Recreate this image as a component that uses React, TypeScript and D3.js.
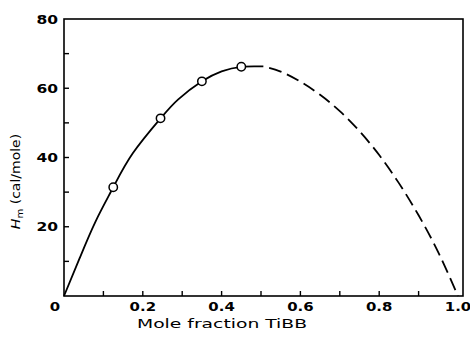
import React from "react";
import * as d3 from "d3";

// measured points (circles)
const pointX = [0.125, 0.245, 0.35, 0.45];
const pointY = [31.4, 51.3, 62, 66.2];

// smoothed curve, solid part (measured range)
const solidX = [0, 0.04, 0.08, 0.125, 0.175, 0.245, 0.29, 0.35, 0.4, 0.45, 0.506];
const solidY = [0, 11, 21.5, 31.4, 41.3, 51.3, 56.8, 62, 64.9, 66.2, 66.3];

// extrapolated part (dashed)
const dashX = [0.506, 0.55, 0.6, 0.65, 0.7, 0.75, 0.8, 0.85, 0.9, 0.95, 1.0];
const dashY = [66.3, 64.8, 61.9, 58.1, 53.4, 47.6, 40.7, 32.6, 23.3, 12.6, 0];

const xTicks = [0, 0.1, 0.2, 0.3, 0.4, 0.5, 0.6, 0.7, 0.8, 0.9, 1.0];
const xLabels = ["0", "", "0.2", "", "0.4", "", "0.6", "", "0.8", "", "1.0"];
const yTicks = [0, 10, 20, 30, 40, 50, 60, 70, 80];
const yLabels = ["", "", "20", "", "40", "", "60", "", "80"];

const W = 470;
const H = 338;
const left = 64, right = 458, frameRight = 463, top = 19, bottom = 296;
const font = "'DejaVu Sans', sans-serif";

export default function App() {
  const x = d3.scaleLinear().domain([0, 1]).range([left, right]);
  const y = d3.scaleLinear().domain([0, 80]).range([bottom, top]);

  const line = d3
    .line<[number, number]>()
    .x((d) => x(d[0]))
    .y((d) => y(d[1]))
    .curve(d3.curveNatural);

  const solid = line(solidX.map((v, i) => [v, solidY[i]] as [number, number])) || "";
  const dashed = line(dashX.map((v, i) => [v, dashY[i]] as [number, number])) || "";

  return (
    <svg
      width={W}
      height={H}
      style={{ position: "absolute", left: 0, top: 0, background: "#fff" }}
    >
      {/* frame */}
      <rect x={left} y={top} width={frameRight - left} height={bottom - top} fill="none" stroke="#000" strokeWidth={1.6} />

      {/* x ticks */}
      {xTicks.map((t, i) => (
        <g key={"x" + i}>
          {i > 0 && i < xTicks.length - 1 && (
            <line x1={x(t)} x2={x(t)} y1={bottom} y2={bottom - 5} stroke="#000" strokeWidth={1.4} />
          )}
          {xLabels[i] && (
            <text
              transform={`translate(${i === 0 ? x(t) - 9 : x(t)},${bottom + 15}) scale(1.3,1)`}
              textAnchor="middle"
              fontFamily={font}
              fontSize={11.5}
              fontWeight="bold"
            >
              {xLabels[i]}
            </text>
          )}
        </g>
      ))}

      {/* y ticks */}
      {yTicks.map((t, i) => (
        <g key={"y" + i}>
          {i > 0 && i < yTicks.length - 1 && (
            <line x1={left} x2={left + 5} y1={y(t)} y2={y(t)} stroke="#000" strokeWidth={1.4} />
          )}
          {yLabels[i] && (
            <text
              transform={`translate(${left - 6},${y(t) + 4.5}) scale(1.35,1)`}
              textAnchor="end"
              fontFamily={font}
              fontSize={11.5}
              fontWeight="bold"
            >
              {yLabels[i]}
            </text>
          )}
        </g>
      ))}

      {/* curves */}
      <path d={solid} fill="none" stroke="#000" strokeWidth={1.8} />
      <path d={dashed} fill="none" stroke="#000" strokeWidth={1.8} strokeDasharray="13,6" strokeDashoffset={-6} />

      {/* data points */}
      {pointX.map((v, i) => (
        <circle key={"p" + i} cx={x(v)} cy={y(pointY[i])} r={4.2} fill="#fff" stroke="#000" strokeWidth={1.5} />
      ))}

      {/* axis titles */}
      <text
        transform={`translate(222,${bottom + 32}) scale(1.5,1)`}
        textAnchor="middle"
        fontFamily={font}
        fontSize={12.5}
      >
        Mole fraction TiBB
      </text>
      <text
        transform={`translate(20,${(top + bottom) / 2 + 24}) rotate(-90) scale(1.12,1)`}
        textAnchor="middle"
        fontFamily={font}
        fontSize={12.5}
      >
        <tspan fontStyle="italic">H</tspan>
        <tspan fontSize={9} dy={3}>m</tspan>
        <tspan dy={-3}> (cal/mole)</tspan>
      </text>
    </svg>
  );
}
